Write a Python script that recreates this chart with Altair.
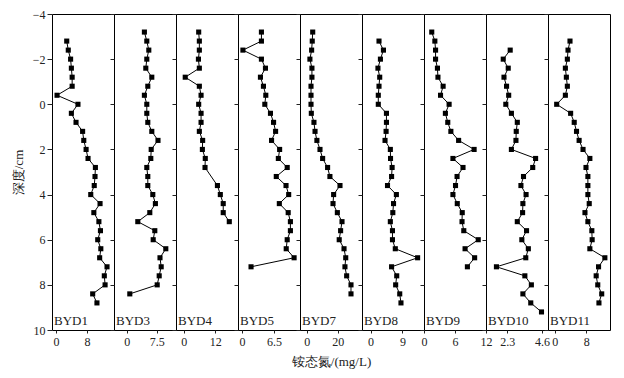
import altair as alt
import pandas as pd

names = ["BYD1", "BYD3", "BYD4", "BYD5", "BYD7", "BYD8", "BYD9", "BYD10", "BYD11"]

d_byd1 = [-2.8, -2.4, -2.0, -1.6, -1.2, -0.8, -0.4, 0.0, 0.4, 0.8, 1.2, 1.6, 2.0, 2.4, 2.8,
          3.2, 3.6, 4.0, 4.4, 4.8, 5.2, 5.6, 6.0, 6.4, 6.8, 7.2, 7.6, 8.0, 8.4, 8.8]
v_byd1 = [2.8, 3.2, 3.8, 4.0, 4.2, 4.2, 0.3, 5.7, 4.0, 5.2, 6.9, 7.2, 7.8, 8.3, 10.2,
          10.1, 9.9, 9.0, 11.4, 9.8, 11.1, 11.5, 10.8, 11.6, 11.3, 13.2, 12.5, 12.7, 9.5, 10.6]

d_byd3 = [-3.2, -2.8, -2.4, -2.0, -1.6, -1.2, -0.8, -0.4, 0.0, 0.4, 0.8, 1.2, 1.6, 2.0, 2.4,
          2.8, 3.2, 3.6, 4.0, 4.4, 4.8, 5.2, 5.6, 6.0, 6.4, 6.8, 7.2, 7.6, 8.0, 8.4]
v_byd3 = [4.4, 5.0, 5.5, 5.0, 4.75, 6.25, 5.25, 4.4, 5.0, 5.0, 5.25, 6.25, 7.8, 6.1, 6.0,
          5.0, 5.25, 5.25, 6.5, 7.15, 5.75, 2.75, 7.0, 6.6, 9.75, 8.3, 8.6, 8.1, 7.6, 0.75]

d_byd4 = [-3.2, -2.8, -2.4, -2.0, -1.6, -1.2, -0.8, -0.4, 0.0, 0.4, 0.8, 1.2, 1.6, 2.0, 2.4,
          2.8, 3.6, 4.0, 4.4, 4.8, 5.2]
v_byd4 = [5.7, 5.95, 5.95, 5.6, 5.95, 0.6, 5.95, 6.6, 5.7, 6.6, 6.6, 5.95, 7.2, 7.1, 8.2,
          8.1, 12.8, 13.9, 15.0, 15.0, 17.3]

d_byd5 = [-3.2, -2.8, -2.4, -2.0, -1.6, -1.2, -0.8, -0.4, 0.0, 0.4, 0.8, 1.2, 1.6, 2.0, 2.4,
          2.8, 3.2, 3.6, 4.0, 4.4, 4.8, 5.2, 5.6, 6.0, 6.4, 6.8, 7.2]
v_byd5 = [3.96, 3.96, 0.2, 3.96, 4.78, 3.76, 4.37, 4.85, 4.65, 5.8, 6.43, 6.84, 6.02, 7.66, 7.4,
          9.2, 6.98, 8.96, 9.5, 7.6, 9.4, 9.85, 9.85, 9.2, 9.0, 10.6, 1.85]

d_byd7 = [-3.2, -2.8, -2.4, -2.0, -1.6, -1.2, -0.8, -0.4, 0.0, 0.4, 0.8, 1.2, 1.6, 2.0, 2.4,
          2.8, 3.2, 3.6, 4.0, 4.4, 4.8, 5.2, 5.6, 6.0, 6.4, 6.8, 7.2, 7.6, 8.0, 8.4]
v_byd7 = [3.9, 3.6, 3.2, 2.1, 3.4, 3.4, 2.8, 2.8, 2.8, 3.0, 4.7, 5.4, 6.6, 8.6, 10.3,
          13.5, 15.0, 21.5, 17.4, 17.0, 19.8, 22.8, 21.9, 21.0, 24.1, 25.2, 24.7, 25.8, 28.6, 28.6]

d_byd8 = [-2.8, -2.4, -2.0, -1.6, -1.2, -0.8, -0.4, 0.0, 0.4, 0.8, 1.2, 1.6, 2.0, 2.4, 2.8,
          3.2, 3.6, 4.0, 4.4, 4.8, 5.2, 5.6, 6.0, 6.4, 6.8, 7.2, 7.6, 8.0, 8.4, 8.8]
v_byd8 = [2.4, 3.65, 2.8, 2.1, 2.6, 2.4, 2.2, 2.2, 4.5, 4.5, 4.4, 4.1, 5.6, 5.65, 6.1,
          5.95, 4.8, 7.3, 6.5, 6.3, 5.6, 6.2, 6.2, 7.0, 13.3, 5.95, 7.4, 7.1, 8.25, 8.6]

d_byd9 = [-3.2, -2.8, -2.4, -2.0, -1.6, -1.2, -0.8, -0.4, 0.0, 0.4, 0.8, 1.2, 1.6, 2.0, 2.4,
          2.8, 3.2, 3.6, 4.0, 4.4, 4.8, 5.2, 5.6, 6.0, 6.4, 6.8, 7.2]
v_byd9 = [1.5, 2.1, 2.24, 2.24, 2.6, 2.7, 3.7, 3.2, 4.86, 4.14, 4.6, 5.2, 6.7, 9.7, 5.6,
          7.55, 6.4, 6.1, 5.6, 6.44, 7.4, 7.36, 7.7, 10.5, 7.95, 9.8, 8.4]

d_byd10 = [-2.4, -2.0, -1.6, -1.2, -0.8, -0.4, 0.0, 0.4, 0.8, 1.2, 1.6, 2.0, 2.4, 2.8, 3.2,
           3.6, 4.0, 4.4, 4.8, 5.2, 5.6, 6.0, 6.4, 6.8, 7.2, 7.6, 8.0, 8.4, 8.8, 9.2]
v_byd10 = [2.5, 2.04, 2.37, 2.09, 2.26, 2.4, 2.21, 2.58, 2.97, 2.9, 2.88, 2.58, 4.18, 3.99, 3.38,
           3.21, 3.55, 3.34, 3.32, 2.97, 3.58, 3.27, 3.7, 3.53, 1.59, 3.47, 3.9, 3.34, 3.86, 4.57]

d_byd11 = [-2.8, -2.4, -2.0, -1.6, -1.2, -0.8, -0.4, 0.0, 0.4, 0.8, 1.2, 1.6, 2.0, 2.4, 2.8,
           3.2, 3.6, 4.0, 4.4, 4.8, 5.2, 5.6, 6.0, 6.4, 6.8, 7.2, 7.6, 8.0, 8.4, 8.8]
v_byd11 = [3.87, 3.37, 3.2, 2.7, 2.95, 3.2, 2.7, 0.5, 4.03, 4.94, 5.52, 6.18, 7.17, 8.9, 7.92,
           8.4, 8.4, 8.4, 8.74, 7.66, 8.4, 9.4, 9.48, 8.9, 12.7, 11.1, 10.5, 10.9, 11.9, 11.2]

depths = [d_byd1, d_byd3, d_byd4, d_byd5, d_byd7, d_byd8, d_byd9, d_byd10, d_byd11]
values = [v_byd1, v_byd3, v_byd4, v_byd5, v_byd7, v_byd8, v_byd9, v_byd10, v_byd11]

x_ticks = [[0, 8], [0, 7.5], [0, 12], [0, 6.5], [0, 20], [0, 9], [0, 6, 12], [2.3, 4.6], [0, 8]]
x_domains = [[-1, 15], [-3.2, 12.3], [-2.9, 20.6], [-0.8, 11.8], [-4.3, 35.7],
             [-2.4, 15.1], [0, 12], [0.9, 5.0], [-1.7, 14]]
y_ticks = [-4, -2, 0, 2, 4, 6, 8, 10]

FONT = "Liberation Serif"
W, H = 62, 316


def panel(i):
    df = pd.DataFrame({"depth": depths[i], "value": values[i]})
    xaxis = alt.Axis(values=x_ticks[i], title="铵态氮/(mg/L)" if i == 4 else None,
                     format=".1~f", grid=False, domain=False, tickSize=3,
                     labelFlush=False, labelOverlap=False, labelPadding=3,
                     titlePadding=8, labelFontSize=12, titleFontSize=13)
    if i == 0:
        yaxis = alt.Axis(values=y_ticks, title="深度/cm", grid=False, domain=False,
                         tickSize=5, labelPadding=2, titlePadding=7,
                         labelFontSize=12, titleFontSize=13)
    else:
        yaxis = alt.Axis(values=y_ticks, title=None, labels=False, grid=False,
                         domain=False, tickSize=4)
    x = alt.X("value:Q", scale=alt.Scale(domain=x_domains[i], nice=False, zero=False),
              axis=xaxis)
    y = alt.Y("depth:Q", scale=alt.Scale(domain=[-4, 10], reverse=True, nice=False,
                                         zero=False), axis=yaxis)
    base = alt.Chart(df).encode(x=x, y=y, order=alt.Order("depth:Q"))
    line = base.mark_line(color="black", strokeWidth=1)
    pts = base.mark_square(color="black", size=26, opacity=1)
    lab = alt.Chart(pd.DataFrame({"name": [names[i]]})).mark_text(
        align="left", baseline="alphabetic", fontSize=13, font=FONT, color="#222"
    ).encode(text="name:N", x=alt.value(2), y=alt.value(H - 5))
    return alt.layer(line, pts, lab).properties(width=W, height=H)


chart = alt.hconcat(*[panel(i) for i in range(len(names))], spacing=0,
                    bounds="flush").properties(
    padding={"left": 3, "top": -1, "right": 0, "bottom": 0}
).configure_view(stroke="black", strokeWidth=1).configure_axis(
    labelFont=FONT, titleFont=FONT, labelColor="#222", titleColor="#222",
    tickColor="#222", titleFontWeight="normal"
).configure_concat(spacing=0)

chart.save("out.html", embed_options={"renderer": "svg", "actions": False})
